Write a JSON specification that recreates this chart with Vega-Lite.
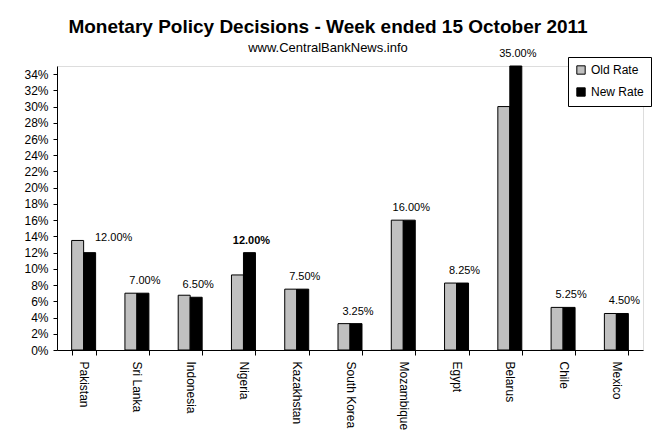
{
  "$schema": "https://vega.github.io/schema/vega-lite/v6.json",
  "description": "Monetary policy decisions, week ended 15 October 2011: old vs new policy rate.",
  "autosize": "none",
  "padding": {"left": 57, "top": 66, "right": 18, "bottom": 85},
  "width": 586,
  "height": 284,
  "background": "white",
  "title": {
    "text": "Monetary Policy Decisions - Week ended  15 October 2011",
    "subtitle": "www.CentralBankNews.info",
    "anchor": "middle",
    "frame": "group",
    "dx": -22,
    "offset": -7,
    "font": "Liberation Sans",
    "fontSize": 19,
    "fontWeight": "bold",
    "color": "black",
    "subtitleFont": "Liberation Sans",
    "subtitleFontSize": 13,
    "subtitleColor": "black",
    "subtitlePadding": 5
  },
  "data": {
    "values": [
      {"country": "Pakistan", "series": "Old Rate", "rate": 0.135},
      {"country": "Pakistan", "series": "New Rate", "rate": 0.12},
      {"country": "Sri Lanka", "series": "Old Rate", "rate": 0.07},
      {"country": "Sri Lanka", "series": "New Rate", "rate": 0.07},
      {"country": "Indonesia", "series": "Old Rate", "rate": 0.0675},
      {"country": "Indonesia", "series": "New Rate", "rate": 0.065},
      {"country": "Nigeria", "series": "Old Rate", "rate": 0.0925},
      {"country": "Nigeria", "series": "New Rate", "rate": 0.12},
      {"country": "Kazakhstan", "series": "Old Rate", "rate": 0.075},
      {"country": "Kazakhstan", "series": "New Rate", "rate": 0.075},
      {"country": "South Korea", "series": "Old Rate", "rate": 0.0325},
      {"country": "South Korea", "series": "New Rate", "rate": 0.0325},
      {"country": "Mozambique", "series": "Old Rate", "rate": 0.16},
      {"country": "Mozambique", "series": "New Rate", "rate": 0.16},
      {"country": "Egypt", "series": "Old Rate", "rate": 0.0825},
      {"country": "Egypt", "series": "New Rate", "rate": 0.0825},
      {"country": "Belarus", "series": "Old Rate", "rate": 0.30},
      {"country": "Belarus", "series": "New Rate", "rate": 0.35},
      {"country": "Chile", "series": "Old Rate", "rate": 0.0525},
      {"country": "Chile", "series": "New Rate", "rate": 0.0525},
      {"country": "Mexico", "series": "Old Rate", "rate": 0.045},
      {"country": "Mexico", "series": "New Rate", "rate": 0.045}
    ]
  },
  "encoding": {
    "x": {
      "field": "country",
      "type": "nominal",
      "sort": null,
      "scale": {"paddingInner": 0.55, "paddingOuter": 0.275},
      "axis": {
        "title": null,
        "labelAngle": 90,
        "labelFont": "Liberation Sans",
        "labelFontSize": 12,
        "labelColor": "black",
        "labelPadding": 6,
        "domainColor": "black",
        "tickColor": "black",
        "tickSize": 5,
        "tickBand": "extent"
      }
    },
    "y": {
      "field": "rate",
      "type": "quantitative",
      "scale": {"domain": [0, 0.35], "nice": false},
      "axis": {
        "title": null,
        "format": ".0%",
        "values": [0, 0.02, 0.04, 0.06, 0.08, 0.1, 0.12, 0.14, 0.16, 0.18, 0.2, 0.22, 0.24, 0.26, 0.28, 0.3, 0.32, 0.34],
        "grid": false,
        "labelFont": "Liberation Sans",
        "labelFontSize": 12,
        "labelColor": "black",
        "labelPadding": 5,
        "domainColor": "black",
        "tickColor": "black",
        "tickSize": 4
      }
    }
  },
  "layer": [
    {
      "mark": {"type": "bar", "stroke": "black", "strokeWidth": 1},
      "encoding": {
        "xOffset": {
          "field": "series",
          "type": "nominal",
          "sort": ["Old Rate", "New Rate"],
          "scale": {"paddingInner": 0, "paddingOuter": 0}
        },
        "color": {
          "field": "series",
          "type": "nominal",
          "sort": ["Old Rate", "New Rate"],
          "scale": {"domain": ["Old Rate", "New Rate"], "range": ["#C0C0C0", "#000000"]},
          "legend": {
            "title": null,
            "orient": "none",
            "legendX": 511,
            "legendY": -9,
            "direction": "vertical",
            "padding": 7,
            "rowPadding": 8,
            "symbolType": "square",
            "symbolSize": 70,
            "symbolStrokeColor": "black",
            "symbolStrokeWidth": 1,
            "labelFont": "Liberation Sans",
            "labelFontSize": 12,
            "labelColor": "black",
            "strokeColor": "black",
            "fillColor": "white"
          }
        }
      }
    },
    {
      "transform": [
        {"filter": "datum.series === 'New Rate' && datum.country !== 'Nigeria' && datum.country !== 'Pakistan'"}
      ],
      "mark": {"type": "text", "font": "Liberation Sans", "fontSize": 11, "color": "black", "dx": 8, "dy": -12},
      "encoding": {
        "text": {"field": "rate", "type": "quantitative", "format": ".2%"}
      }
    },
    {
      "transform": [
        {"filter": "datum.series === 'New Rate' && datum.country === 'Pakistan'"}
      ],
      "mark": {"type": "text", "font": "Liberation Sans", "fontSize": 11, "color": "black", "dx": 30, "dy": -15},
      "encoding": {
        "text": {"field": "rate", "type": "quantitative", "format": ".2%"}
      }
    },
    {
      "transform": [
        {"filter": "datum.series === 'New Rate' && datum.country === 'Nigeria'"}
      ],
      "mark": {"type": "text", "font": "Liberation Sans", "fontSize": 11, "fontWeight": "bold", "color": "black", "dx": 8, "dy": -12},
      "encoding": {
        "text": {"field": "rate", "type": "quantitative", "format": ".2%"}
      }
    }
  ]
}
